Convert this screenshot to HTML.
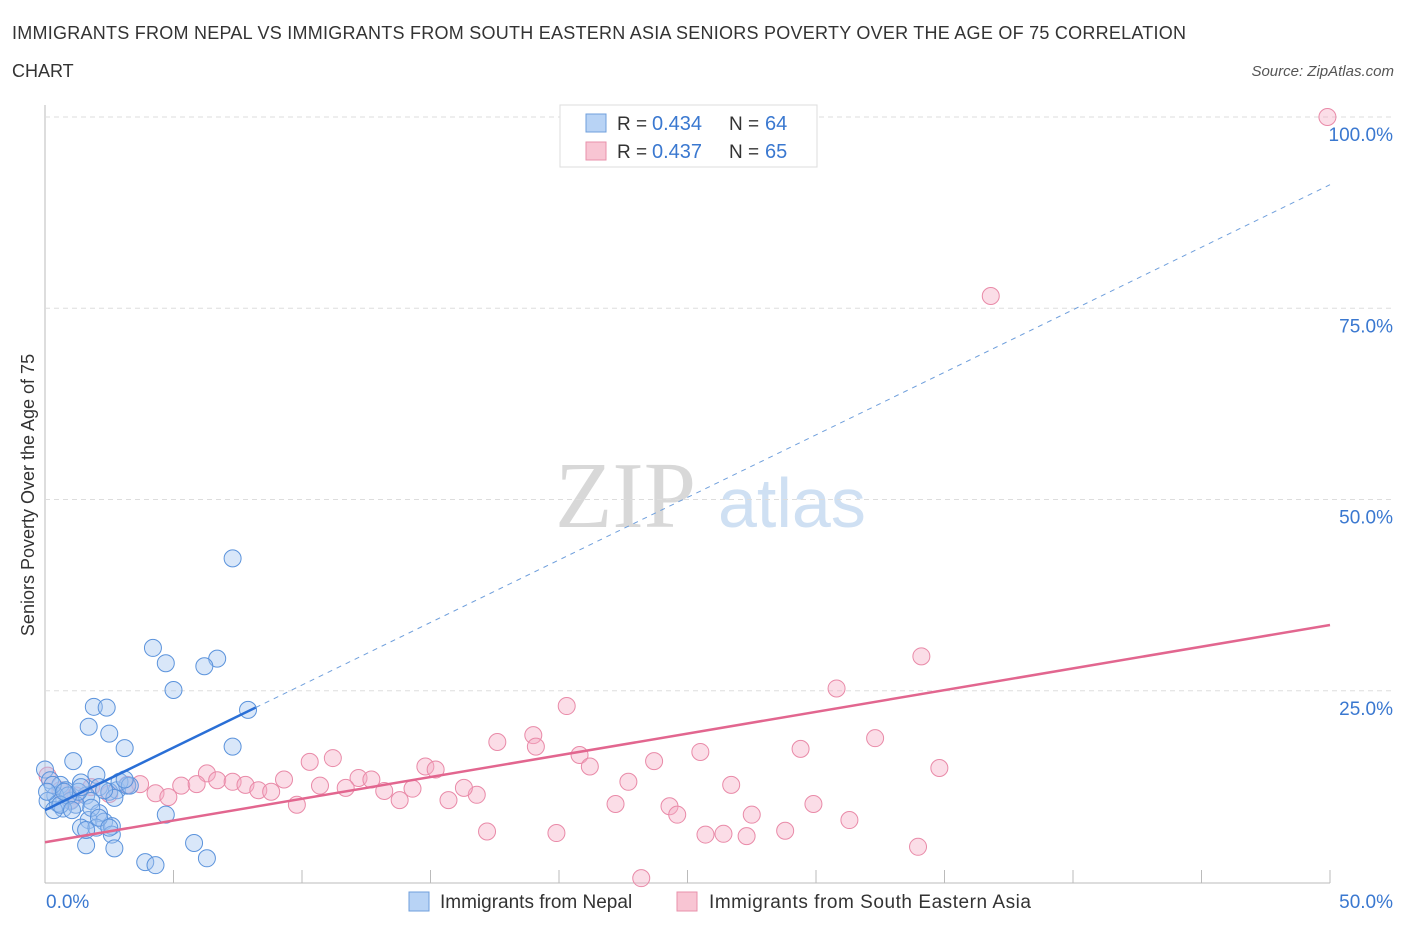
<!DOCTYPE html>
<html><head><meta charset="utf-8"><style>
body{margin:0;background:#fff;font-family:"Liberation Sans",sans-serif;}
svg text{font-family:"Liberation Sans",sans-serif;}
</style></head><body>
<svg id="c" width="1406" height="930" xmlns="http://www.w3.org/2000/svg">
<text x="12" y="39" font-size="18" fill="#333" textLength="1174">IMMIGRANTS FROM NEPAL VS IMMIGRANTS FROM SOUTH EASTERN ASIA SENIORS POVERTY OVER THE AGE OF 75 CORRELATION</text>
<text x="12" y="77" font-size="18" fill="#333">CHART</text>
<text x="1394" y="76" font-size="15" fill="#555" font-style="italic" text-anchor="end">Source: ZipAtlas.com</text>
<text x="0" y="0" transform="translate(34,495) rotate(-90)" font-size="18" fill="#333" text-anchor="middle">Seniors Poverty Over the Age of 75</text>
<g><text x="555" y="527" font-size="94" fill="#d8d8d8" font-family="Liberation Serif" style="font-family:'Liberation Serif',serif">ZIP</text><text x="718" y="527" font-size="70" fill="#cfe0f3">atlas</text></g>
<g id="grid"></g><g id="marks"></g>
<g>
<rect x="560" y="105" width="257" height="62" fill="#fff" stroke="#ddd"/>
<rect x="586" y="114" width="20" height="18" fill="#b8d3f5" stroke="#6f9fdc"/>
<rect x="586" y="142" width="20" height="18" fill="#f8c5d3" stroke="#e891ab"/>
<text x="617" y="130" font-size="19" fill="#333">R =</text><text x="652" y="130" font-size="20" fill="#3a78d0">0.434</text>
<text x="729" y="130" font-size="19" fill="#333">N =</text><text x="765" y="130" font-size="20" fill="#3a78d0">64</text>
<text x="617" y="158" font-size="19" fill="#333">R =</text><text x="652" y="158" font-size="20" fill="#3a78d0">0.437</text>
<text x="729" y="158" font-size="19" fill="#333">N =</text><text x="765" y="158" font-size="20" fill="#3a78d0">65</text>
</g>
<g>
<rect x="409" y="892" width="20" height="19" fill="#b8d3f5" stroke="#6f9fdc"/>
<text x="440" y="908" font-size="19" fill="#333">Immigrants from Nepal</text>
<rect x="677" y="892" width="20" height="19" fill="#f8c5d3" stroke="#e891ab"/>
<text x="709" y="908" font-size="19" fill="#333" textLength="322">Immigrants from South Eastern Asia</text>
</g>
</svg>
<script>
const yTicks=[25,50,75,100];
const yTickLabels=["25.0%","50.0%","75.0%","100.0%"];
const xTickLabels=["0.0%","50.0%"];
const nepalX=[7.3,4.2,4.7,6.7,6.2,5.0,7.9,1.9,2.4,1.7,2.5,3.1,7.3,1.1,2.0,0.0,0.2,0.6,1.4,2.1,2.8,3.2,0.8,0.4,1.0,1.6,1.8,1.2,0.1,0.5,0.7,2.5,2.7,2.3,2.1,1.7,2.3,1.4,2.0,2.6,2.9,3.3,4.7,1.6,2.6,2.7,3.9,4.3,5.8,6.3,0.3,1.3,1.8,0.9,0.35,1.4,3.1,0.6,2.1,2.5,1.05,1.6,0.75,0.08];
const nepalY=[42.3,30.6,28.6,29.2,28.2,25.1,22.5,22.9,22.8,20.3,19.4,17.5,17.7,15.8,14.0,14.7,13.3,12.7,13.0,12.4,12.0,12.6,12.0,11.3,10.6,11.3,10.6,10.1,10.6,10.3,9.6,11.8,11.0,12.0,9.0,8.1,7.9,7.1,7.1,7.3,13.1,12.6,8.8,4.8,6.2,4.4,2.6,2.2,5.1,3.1,12.7,11.8,9.7,11.3,9.4,12.4,13.4,10.1,8.4,7.1,9.4,6.8,11.8,11.8];
const seaX=[49.9,36.8,34.1,30.8,20.3,32.3,19.0,19.1,17.6,25.5,29.4,23.7,11.2,10.3,20.8,21.2,14.8,15.2,34.8,6.3,12.2,12.7,9.3,3.7,4.3,4.8,5.3,5.9,6.7,7.3,7.8,8.3,8.8,10.7,11.7,13.2,14.3,16.8,16.3,22.7,26.7,13.8,15.7,9.8,22.2,24.3,24.6,27.5,29.9,31.3,17.2,19.9,25.7,26.4,27.3,28.8,33.97,23.2,0.1,0.6,1.2,1.8,2.5,3.2,1.0];
const seaY=[100,76.6,29.5,25.3,23.0,18.8,19.2,17.7,18.3,17.0,17.4,15.8,16.2,15.7,16.6,15.1,15.1,14.7,14.9,14.2,13.6,13.4,13.4,12.8,11.6,11.1,12.6,12.8,13.3,13.1,12.7,12.0,11.8,12.6,12.3,11.9,12.2,11.4,12.3,13.1,12.7,10.7,10.7,10.1,10.2,9.9,8.8,8.8,10.2,8.1,6.6,6.4,6.2,6.3,6.0,6.7,4.6,0.5,13.9,12.0,11.3,12.4,11.5,12.7,10.7];
const blueLine=[9.4,1.635];
const pinkLine=[5.2,0.568];
const NS="http://www.w3.org/2000/svg";
const X0=45,X1=1330,Y0=882,Y100=117;
const sx=v=>X0+(v/50)*(X1-X0);
const sy=v=>Y0-(v/100)*(Y0-Y100);
function mk(t,a,p){const e=document.createElementNS(NS,t);for(const k in a)e.setAttribute(k,a[k]);p.appendChild(e);return e;}
const g=document.getElementById('grid'),m=document.getElementById('marks');
mk('line',{x1:45,y1:105,x2:45,y2:883,stroke:'#bbb'},g);
mk('line',{x1:45,y1:883,x2:1330,y2:883,stroke:'#bbb'},g);
for(let i=0;i<=10;i++){mk('line',{x1:45+i*128.5,y1:870,x2:45+i*128.5,y2:883,stroke:'#bbb'},g);}
yTicks.forEach((t,i)=>{
 const l=mk('line',{x1:45,y1:sy(t),x2:1395,y2:sy(t),stroke:'#ddd','stroke-dasharray':'5,4'},g);
 
 
 const tx=mk('text',{x:1393,y:sy(t)+24,'font-size':19,fill:'#3a78d0','text-anchor':'end'},g);
 tx.textContent=yTickLabels[i];
 
 
});
[[46,'start'],[1393,'end']].forEach((p,i)=>{const tx=mk('text',{x:p[0],y:908,'font-size':19,fill:'#3a78d0','text-anchor':p[1]},g);tx.textContent=xTickLabels[i];
 
 });
seaX.forEach((x,i)=>{const c=mk('circle',{cx:sx(x),cy:sy(seaY[i]),r:8.5,fill:'rgba(245,170,195,0.4)',stroke:'#e98aa8','stroke-width':1},m);
 
 });
nepalX.forEach((x,i)=>{const c=mk('circle',{cx:sx(x),cy:sy(nepalY[i]),r:8.5,fill:'rgba(160,195,240,0.4)',stroke:'#5b93dc','stroke-width':1},m);
 
 });
let l=mk('line',{x1:sx(0),y1:sy(blueLine[0]),x2:sx(8.2),y2:sy(blueLine[0]+blueLine[1]*8.2),stroke:'#2a6fd6','stroke-width':2.5},m);


l=mk('line',{x1:sx(8.2),y1:sy(blueLine[0]+blueLine[1]*8.2),x2:sx(50),y2:sy(blueLine[0]+blueLine[1]*50),stroke:'#6f9fdc','stroke-width':1,'stroke-dasharray':'5,5'},m);


l=mk('line',{x1:sx(0),y1:sy(pinkLine[0]),x2:sx(50),y2:sy(pinkLine[0]+pinkLine[1]*50),stroke:'#e2668f','stroke-width':2.5},m);


</script>
</body></html>
